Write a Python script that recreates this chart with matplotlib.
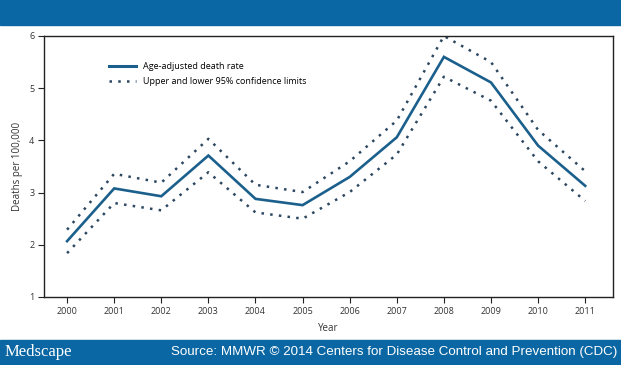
import matplotlib
matplotlib.use("Agg")
import matplotlib.pyplot as plt
from matplotlib.lines import Line2D

years = [2000, 2001, 2002, 2003, 2004, 2005, 2006, 2007, 2008, 2009, 2010, 2011]
rate = [2.07, 3.08, 2.93, 3.71, 2.88, 2.76, 3.30, 4.06, 5.60, 5.11, 3.90, 3.13]
upper = [2.29, 3.36, 3.19, 4.03, 3.15, 3.01, 3.60, 4.38, 6.00, 5.50, 4.20, 3.41]
lower = [1.84, 2.80, 2.66, 3.39, 2.62, 2.50, 3.01, 3.73, 5.22, 4.76, 3.60, 2.84]
yticks = [1, 2, 3, 4, 5, 6]

main_col = "#1b5f8c"
dot_col = "#2c4760"
band_col = "#0b67a3"
font = ["Open Sans", "DejaVu Sans"]

fig = plt.figure(figsize=(6.21, 3.65), dpi=100)
fig.patch.set_facecolor("white")

# top and bottom banners
fig.add_artist(plt.Rectangle((0, 1 - 25/365), 1, 25/365, transform=fig.transFigure,
                             color=band_col, zorder=0))
fig.add_artist(plt.Rectangle((0, 0), 1, 25/365, transform=fig.transFigure,
                             color=band_col, zorder=0))
fig.text(5/621, 12.5/365, "Medscape", family="Liberation Serif", fontsize=12,
         color="white", va="center", ha="left")
fig.text(617/621, 12.5/365, "Source: MMWR \u00a9 2014 Centers for Disease Control and Prevention (CDC)",
         family="Liberation Sans", fontsize=9.6, color="white", va="center", ha="right")

ax = fig.add_axes([44/621, 1 - 297/365, (613 - 44)/621, (297 - 36)/365])
ax.plot(years, upper, color=dot_col, lw=1.8, linestyle=(0, (1, 2.5)))
ax.plot(years, lower, color=dot_col, lw=1.8, linestyle=(0, (1, 2.5)))
ax.plot(years, rate, color=main_col, lw=1.9, solid_joinstyle="miter")

ax.set_xlim(1999.51, 2011.59)
ax.set_ylim(1, 6)
ax.set_xticks(years)
ax.set_xticklabels([str(y) for y in years], family=font, fontsize=6.5, color="#333333")
ax.set_yticks(yticks)
ax.set_yticklabels([str(v) for v in yticks], family=font, fontsize=6.5, color="#333333")
ax.tick_params(axis="both", length=4, width=0.8, color="#222222", pad=3)
for s in ax.spines.values():
    s.set_linewidth(1.0)
    s.set_color("#222222")
ax.set_xlabel("Year", family=font, fontsize=7, color="#333333", labelpad=5)
ax.set_ylabel("Deaths per 100,000", family=font, fontsize=7, color="#333333", labelpad=4)

handles = [Line2D([], [], color=main_col, lw=2.2),
           Line2D([], [], color=dot_col, lw=1.8, linestyle=(0, (1, 2.5)))]
ax.legend(handles, ["Age-adjusted death rate", "Upper and lower 95% confidence limits"],
          loc="upper left", bbox_to_anchor=(0.1, 0.93), frameon=False,
          prop={"family": font, "size": 6.5}, handlelength=3.0, handletextpad=0.8,
          labelspacing=0.6)

fig.savefig("out.png", dpi=100)
